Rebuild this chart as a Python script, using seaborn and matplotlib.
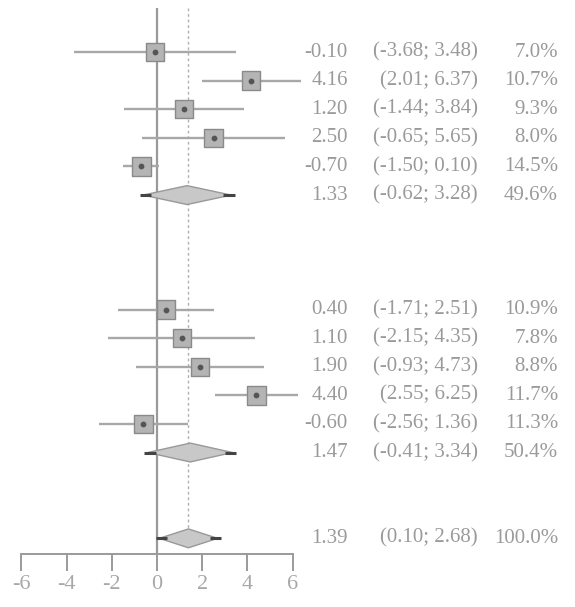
import matplotlib
matplotlib.use("Agg")
import matplotlib.pyplot as plt
from matplotlib.patches import Polygon
import pandas as pd
import seaborn as sns

# study estimates (mean difference, 95% CI, weight)
est_g1 = [-0.10, 4.16, 1.20, 2.50, -0.70]
lo_g1 = [-3.68, 2.01, -1.44, -0.65, -1.50]
hi_g1 = [3.48, 6.37, 3.84, 5.65, 0.10]
w_g1 = [7.0, 10.7, 9.3, 8.0, 14.5]

est_g2 = [0.40, 1.10, 1.90, 4.40, -0.60]
lo_g2 = [-1.71, -2.15, -0.93, 2.55, -2.56]
hi_g2 = [2.51, 4.35, 4.73, 6.25, 1.36]
w_g2 = [10.9, 7.8, 8.8, 11.7, 11.3]

# pooled: subgroup 1, subgroup 2, overall
pool_est = [1.33, 1.47, 1.39]
pool_lo = [-0.62, -0.41, 0.10]
pool_hi = [3.28, 3.34, 2.68]
pool_w = [49.6, 50.4, 100.0]

xticks = [-6, -4, -2, 0, 2, 4, 6]

study_rows = [0, 1, 2, 3, 4, 9, 10, 11, 12, 13]
pool_rows = [5, 14, 17]
axis_row = 17.55

studies = pd.DataFrame({
    "est": est_g1 + est_g2,
    "lo": lo_g1 + lo_g2,
    "hi": hi_g1 + hi_g2,
    "w": w_g1 + w_g2,
    "row": study_rows,
})

sns.set_style("white")
plt.rcParams['font.family'] = ['Liberation Serif', 'DejaVu Serif']

line_c = "#9a9a9a"
txt_c = "#9a9a9a"

fig = plt.figure(figsize=(5.75, 6.07), dpi=100)
ax = fig.add_axes([0, 0, 1, 1])
ax.set_xlim(-6.95, 18.5)
ax.set_ylim(19.4, -1.82)

# reference lines: no effect and overall estimate
ax.vlines(0, -1.55, axis_row, color=line_c, lw=1.6, zorder=1)
ax.vlines(pool_est[2], -1.55, 17.0, color="#b0b0b0", lw=1.0,
          linestyles=(0, (2, 2)), zorder=1)

# confidence intervals
ax.hlines(studies["row"], studies["lo"], studies["hi"], color="#a8a8a8",
          lw=1.7, zorder=2)

# study boxes
studies["size"] = (17 + studies["w"] * 0.15) ** 2 * 0.52
sns.scatterplot(data=studies, x="est", y="row", size="size",
                sizes=(studies["size"].min(), studies["size"].max()),
                marker="s", color="#b4b4b4", edgecolor="#8a8a8a",
                linewidth=1.0, legend=False, ax=ax, zorder=3)
ax.scatter(studies["est"], studies["row"], s=10, color="#555555", zorder=4)

# pooled diamonds
for e, lo, hi, r in zip(pool_est, pool_lo, pool_hi, pool_rows):
    d = Polygon([(lo, r), (e, r - 0.33), (hi, r), (e, r + 0.33)],
                closed=True, facecolor="#c8c8c8", edgecolor="#999999",
                lw=1.0, zorder=3)
    ax.add_patch(d)
    ax.hlines(r, lo - 0.15, lo + 0.35, color="#444444", lw=2.2, zorder=4)
    ax.hlines(r, hi - 0.35, hi + 0.15, color="#444444", lw=2.2, zorder=4)

# x axis
ax.spines[["top", "right", "left"]].set_visible(False)
ax.spines["bottom"].set_position(("data", axis_row))
ax.spines["bottom"].set_bounds(-6, 6)
ax.spines["bottom"].set_color(line_c)
ax.spines["bottom"].set_linewidth(1.4)
ax.set_xticks(xticks)
ax.set_xticklabels([str(t) for t in xticks])
ax.tick_params(axis="x", direction="out", length=12, width=1.4,
               colors=line_c, labelsize=16, labelcolor="#a8a8a8", pad=3,
               bottom=True)
ax.set_yticks([])
ax.set_xlabel("")
ax.set_ylabel("")

# right-hand text columns
all_est = est_g1 + [pool_est[0]] + est_g2 + [pool_est[1], pool_est[2]]
all_lo = lo_g1 + [pool_lo[0]] + lo_g2 + [pool_lo[1], pool_lo[2]]
all_hi = hi_g1 + [pool_hi[0]] + hi_g2 + [pool_hi[1], pool_hi[2]]
all_w = w_g1 + [pool_w[0]] + w_g2 + [pool_w[1], pool_w[2]]
all_rows = study_rows[:5] + [pool_rows[0]] + study_rows[5:] + pool_rows[1:]

fs = 15
for e, lo, hi, w, r in zip(all_est, all_lo, all_hi, all_w, all_rows):
    ax.text(8.45, r, f"{e:.2f}", ha="right", va="center", fontsize=fs,
            color=txt_c)
    ax.text(14.2, r, f"({lo:.2f}; {hi:.2f})", ha="right", va="center",
            fontsize=fs, color=txt_c)
    ax.text(17.75, r, f"{w:.1f}%", ha="right", va="center", fontsize=fs,
            color=txt_c)

fig.savefig("out.png", dpi=100)
